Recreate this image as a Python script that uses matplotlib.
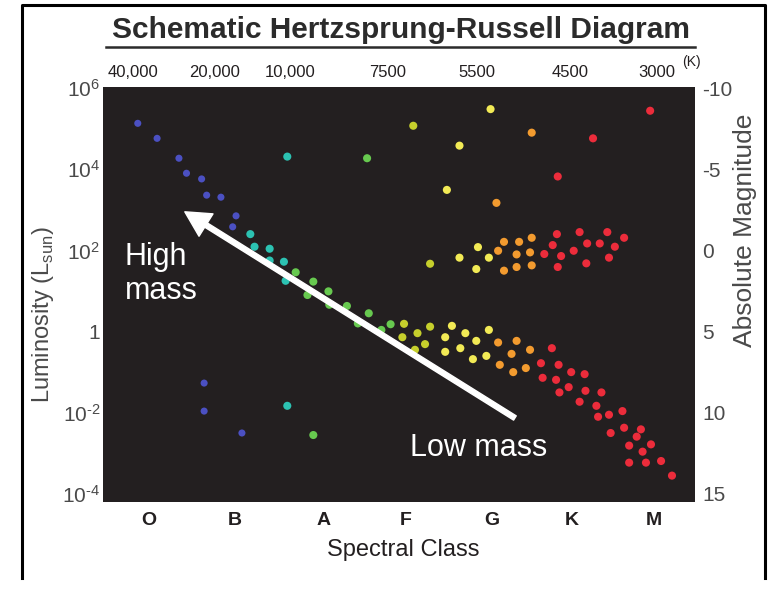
import numpy as np
import matplotlib.pyplot as plt
from matplotlib.lines import Line2D
from matplotlib.ticker import NullLocator

plt.rcParams['font.family'] = ['Liberation Sans', 'DejaVu Sans']
plt.rcParams['mathtext.fontset'] = 'custom'
plt.rcParams['mathtext.rm'] = 'Liberation Sans'

# axis labels / ticks
spec_classes = ['O', 'B', 'A', 'F', 'G', 'K', 'M']
spec_pos     = [0.0, 1.02, 2.08, 3.06, 4.09, 5.04, 6.01]
temp_labels  = ['40,000', '20,000', '10,000', '7500', '5500', '4500', '3000']
temp_pos     = [-0.19, 0.79, 1.68, 2.85, 3.91, 5.02, 6.05]
lum_ticks    = [1e6, 1e4, 1e2, 1, 1e-2, 1e-4]
lum_labels   = [r'$\mathregular{10^{6}}$', r'$\mathregular{10^{4}}$', r'$\mathregular{10^{2}}$',
                '1', '$\\mathregular{10^{\u2010 2}}$', '$\\mathregular{10^{\u2010 4}}$']
mag_ticks    = [-10, -5, 0, 5, 10, 15]
mag_labels   = ['-10', '-5', '0', '5', '10', '15']

# stars: x = spectral index (O=0 ... M=6), y = log10(L / L_sun)
blue_x = [-0.13, 0.10, 0.36, 0.45, 0.63, 0.69, 0.86, 1.04, 1.00, 0.66, 0.66, 1.11]
blue_y = [5.13, 4.76, 4.27, 3.90, 3.76, 3.36, 3.31, 2.85, 2.58, -1.27, -1.96, -2.50]

teal_x = [1.21, 1.26, 1.44, 1.44, 1.61, 1.63, 1.65, 1.65]
teal_y = [2.40, 2.09, 2.04, 1.75, 1.72, 1.25, 4.31, -1.83]

green_x = [1.75, 1.96, 1.89, 2.14, 2.15, 2.36, 2.62, 2.49, 2.77, 2.88, 2.60, 1.96]
green_y = [1.46, 1.23, 0.90, 0.99, 0.66, 0.63, 0.45, 0.20, 0.04, 0.18, 4.27, -2.55]

fstar_x = [3.04, 3.02, 3.20, 3.17, 3.29, 3.35, 3.15, 3.35]
fstar_y = [0.19, -0.14, -0.04, -0.45, -0.31, 0.12, 5.07, 1.67]

yellow_x = [3.53, 3.53, 3.61, 3.71, 3.77, 3.86, 3.90, 4.02, 4.05,
            4.07, 3.70, 3.55, 3.70, 3.92, 3.90, 4.05]
yellow_y = [-0.14, -0.50, 0.14, -0.41, -0.04, -0.68, -0.23, -0.60, 0.04,
            5.48, 4.58, 3.49, 1.82, 2.08, 1.54, 1.82]

orange_x = [4.16, 4.32, 4.38, 4.54, 4.18, 4.34, 4.49, 4.56, 4.14,
            4.23, 4.16, 4.23, 4.41, 4.38, 4.38, 4.56, 4.54, 4.56]
orange_y = [-0.27, -0.55, -0.23, -0.45, -0.82, -1.00, -0.90, 4.90, 3.17,
            2.21, 1.99, 1.50, 2.21, 1.90, 1.59, 2.31, 1.95, 1.63]

red_x = [4.80, 4.67, 4.88, 4.69, 4.85, 5.03, 5.19, 4.89, 5.00, 5.20, 5.39, 5.13,
         5.33, 5.35, 5.48, 5.64, 5.50, 5.66, 5.86, 5.81, 5.98, 5.72, 5.88, 5.72,
         5.92, 6.10, 6.23,
         5.97, 5.29, 4.87,
         4.86, 4.81, 4.71, 4.91, 4.87, 5.13, 5.06, 5.22, 5.21, 5.37, 5.46, 5.55,
         5.48, 5.66]
red_y = [-0.41, -0.78, -0.82, -1.14, -1.19, -1.00, -1.05, -1.50, -1.37, -1.46, -1.50, -1.73,
         -1.83, -2.10, -2.05, -1.96, -2.50, -2.37, -2.41, -2.59, -2.78, -2.81, -2.96, -3.23,
         -3.23, -3.19, -3.55,
         5.44, 4.76, 3.82,
         2.40, 2.13, 1.91, 1.86, 1.59, 2.45, 1.99, 2.17, 1.68, 2.17, 2.45, 2.09,
         1.82, 2.31]

groups = [
    (blue_x, blue_y, '#4b50c2', 26),
    (teal_x, teal_y, '#2cc2b2', 34),
    (green_x, green_y, '#67c94f', 34),
    (fstar_x, fstar_y, '#c6cf2c', 34),
    (yellow_x, yellow_y, '#f2ea55', 34),
    (orange_x, orange_y, '#f39b2f', 34),
    (red_x, red_y, '#ec2c3b', 34),
]

# arrow (spectral index, log L)
arrow_tail = (4.36, -2.13)
arrow_tip = (0.43, 2.95)

ymin_log, ymax_log = -4.2, 6.025
text_dark = '#231f20'
text_grey = '#4a4a4a'

fig = plt.figure(figsize=(7.72, 5.9), dpi=100)
ax = fig.add_axes([103 / 772, 1 - 502 / 590, 592 / 772, 415 / 590])
ax.set_facecolor('#231f20')
ax.set_yscale('log')
ax.set_xlim(-0.544, 6.504)
ax.set_ylim(10 ** ymin_log, 10 ** ymax_log)
for sp in ax.spines.values():
    sp.set_visible(False)

for xs, ys, col, size in groups:
    ax.scatter(xs, 10 ** np.array(ys), s=size, c=col, edgecolors='none', zorder=3)

ax.annotate('', xy=(arrow_tip[0], 10 ** arrow_tip[1]),
            xytext=(arrow_tail[0], 10 ** arrow_tail[1]),
            arrowprops=dict(facecolor='white', edgecolor='white', width=3.6,
                            headwidth=19, headlength=18, shrink=0), zorder=4)

ax.text(0.037, 0.549, 'High\nmass', transform=ax.transAxes, color='white',
        fontsize=22, ha='left', va='center', linespacing=1.15)
ax.text(0.519, 0.130, 'Low mass', transform=ax.transAxes, color='white',
        fontsize=22, ha='left', va='center')

# bottom: spectral classes
ax.set_xticks(spec_pos, spec_classes, fontsize=14, fontweight='bold', color=text_dark)
ax.tick_params(axis='x', length=0, pad=7)

# left: luminosity
ax.yaxis.set_minor_locator(NullLocator())
ax.set_yticks(lum_ticks, lum_labels, fontsize=15, color=text_grey)
ax.tick_params(axis='y', length=0, pad=2)

# top: temperature
ax_top = ax.secondary_xaxis('top')
ax_top.set_xticks(temp_pos, temp_labels, fontsize=12, color=text_dark)
ax_top.tick_params(length=0, pad=5)
ax_top.spines['top'].set_visible(False)
fig.text(691 / 772, 1 - 62 / 590, '(K)', fontsize=10, color=text_dark,
         ha='center', va='center')

# right: absolute magnitude
ax_r = ax.twinx()
ax_r.set_ylim(5 - 2.5 * ymin_log, 5 - 2.5 * ymax_log)
ax_r.set_yticks(mag_ticks, mag_labels, fontsize=15, color=text_grey)
ax_r.tick_params(axis='y', length=0, pad=5)
for sp in ax_r.spines.values():
    sp.set_visible(False)

fig.text(745 / 772, 1 - 230 / 590, 'Absolute Magnitude', rotation=90,
         fontsize=19, color=text_grey, ha='center', va='center')
fig.text(43 / 772, 1 - 315 / 590, r'Luminosity (L$_{\mathregular{sun}}$)', rotation=90,
         fontsize=17, color=text_grey, ha='center', va='center')
fig.text(403 / 772, 1 - 550 / 590, 'Spectral Class', fontsize=17,
         color=text_dark, ha='center', va='center')

# title with underline
fig.text(401 / 772, 1 - 30 / 590, 'Schematic Hertzsprung-Russell Diagram',
         fontsize=21.5, fontweight='bold', color='#2b2b2b', ha='center', va='center')
fig.add_artist(Line2D([106 / 772, 695 / 772], [1 - 47 / 590, 1 - 47 / 590],
                      color='#2b2b2b', lw=1.8))

# outer frame (left, top, right)
fig.add_artist(Line2D([22 / 772, 22 / 772, 765 / 772, 765 / 772],
                      [0.02, 1 - 5 / 590, 1 - 5 / 590, 0.02],
                      color='black', lw=2.2))

plt.savefig('out.png', dpi=100)
plt.close()
